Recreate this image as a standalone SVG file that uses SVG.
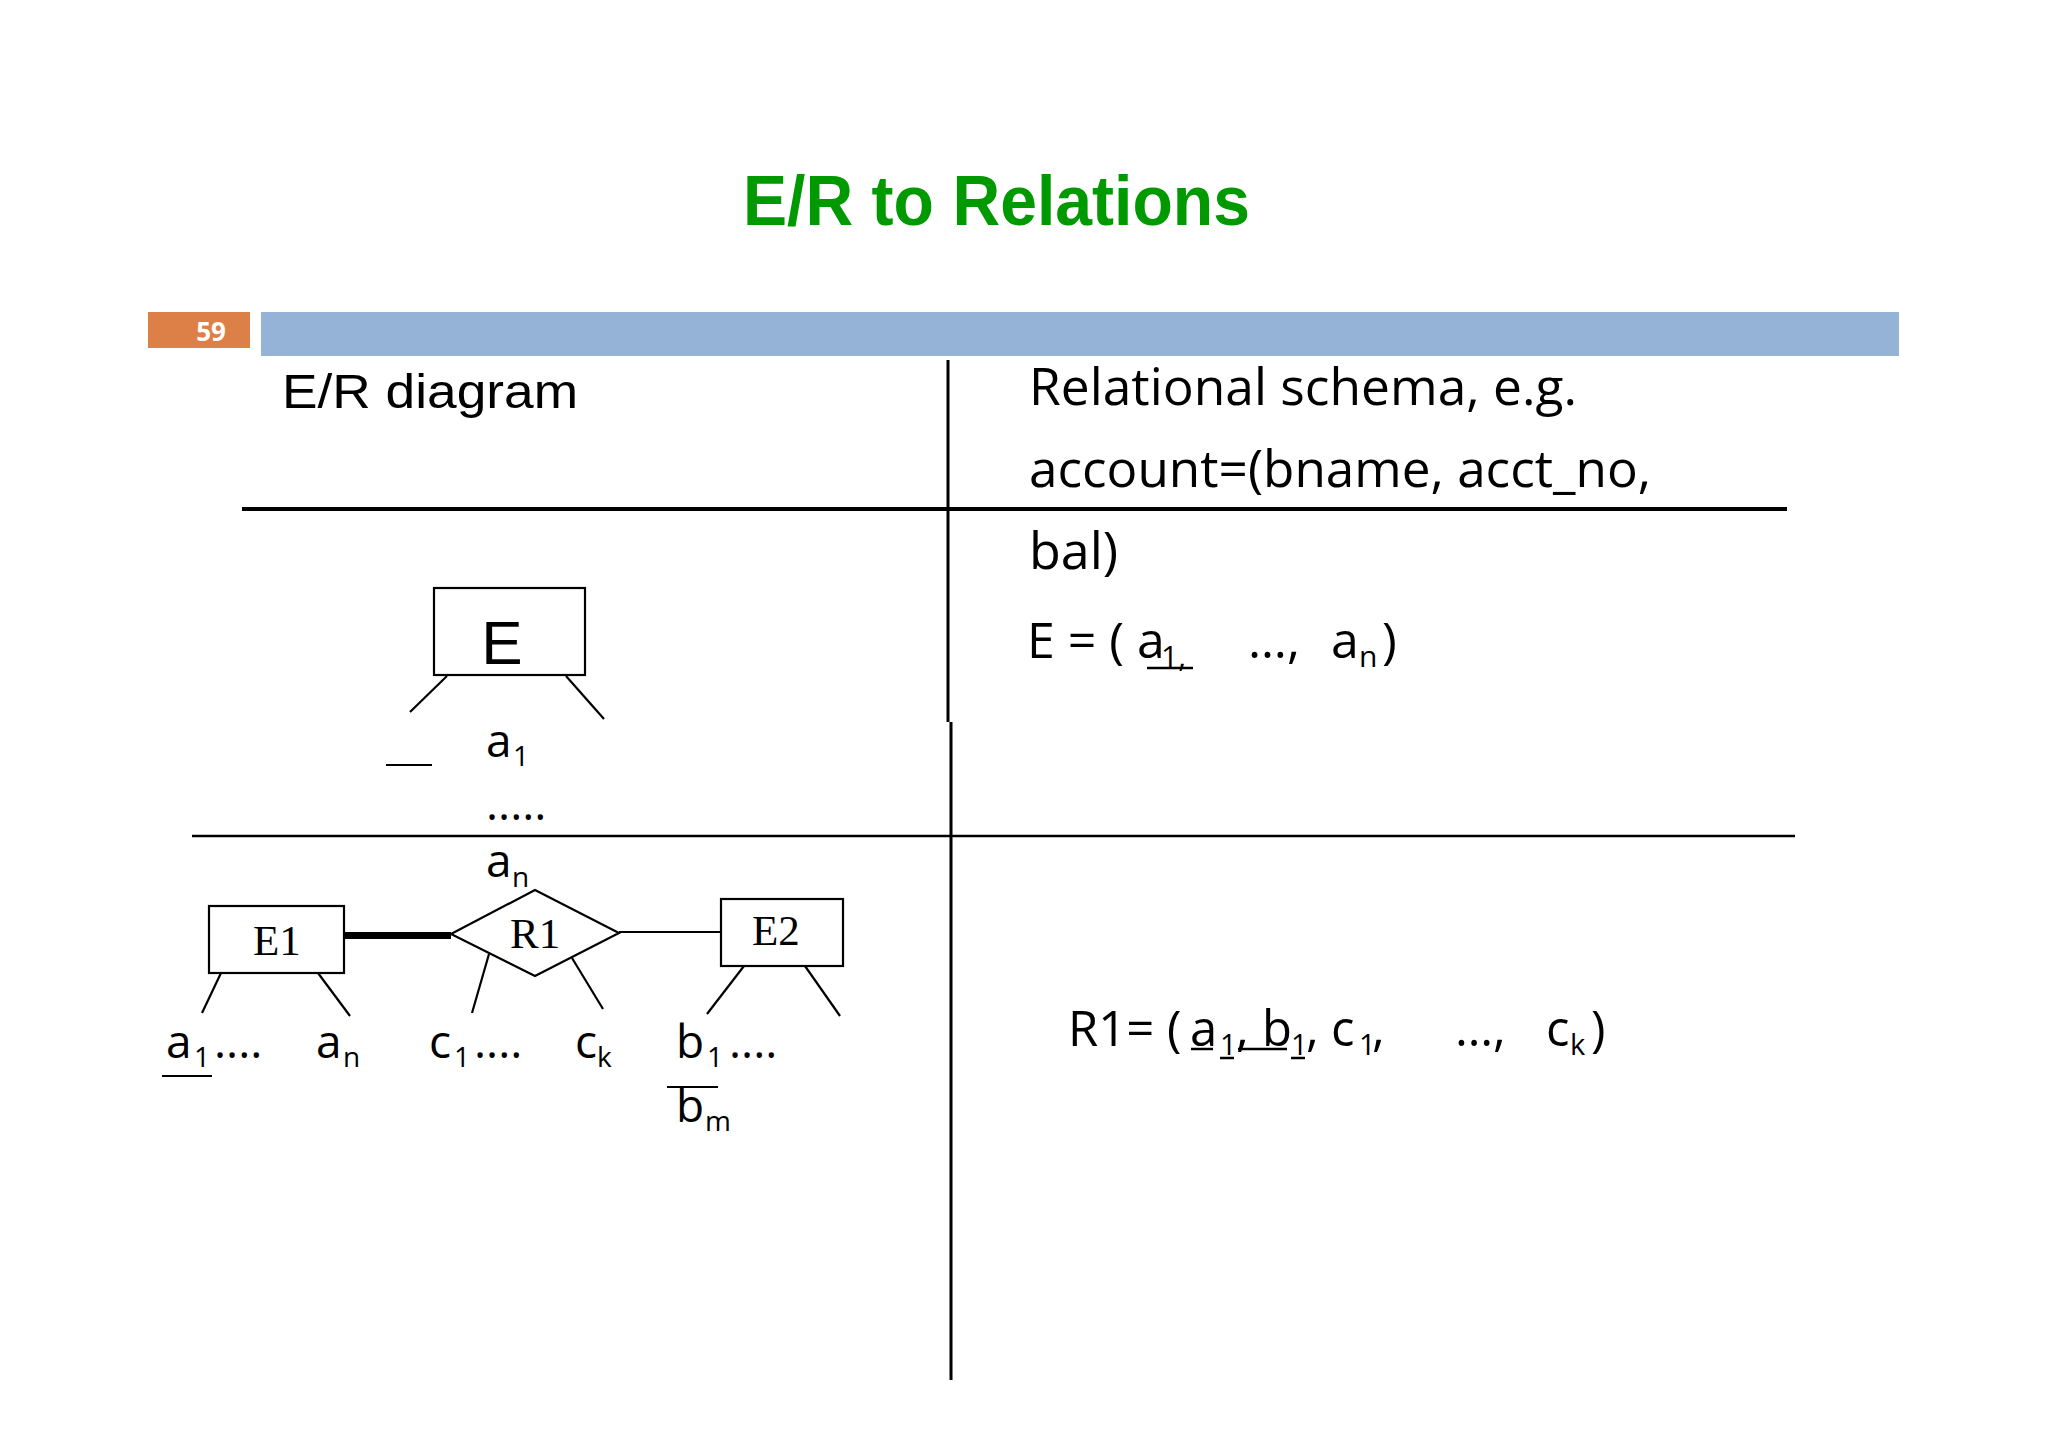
<svg xmlns="http://www.w3.org/2000/svg" width="2048" height="1448" viewBox="0 0 2048 1448">
<style>
.ln{stroke:#000;fill:none;stroke-width:2.2}
.box{stroke:#000;fill:#fff;stroke-width:2.2}
.body{font-family:"Open Sans","Noto Sans",sans-serif;fill:#000}
.serif{font-family:"Liberation Serif","Times New Roman",serif;fill:#000;font-size:43px}
.geo{font-family:"Liberation Sans",Arial,sans-serif;fill:#000}
</style>
<rect width="2048" height="1448" fill="#fff"/>
<g id="header">
<text x="743" y="225" font-family="Liberation Sans, Arial, sans-serif" font-weight="bold" font-size="70" fill="#009A00" textLength="507" lengthAdjust="spacingAndGlyphs">E/R to Relations</text>
<rect x="148" y="312" width="102" height="36" fill="#DD8047"/>
<text x="211" y="341" text-anchor="middle" font-family="Open Sans, sans-serif" font-weight="bold" font-size="26" fill="#fff">59</text>
<rect x="261" y="312" width="1638" height="44" fill="#95B3D7"/>
</g>
<g id="table">
<line x1="948" y1="360" x2="948" y2="722" stroke="#000" stroke-width="3"/>
<line x1="951" y1="722" x2="951" y2="1380" stroke="#000" stroke-width="3"/>
<line x1="242" y1="509" x2="1787" y2="509" stroke="#000" stroke-width="4"/>
<line x1="192" y1="836" x2="1795" y2="836" stroke="#000" stroke-width="2.5"/>
<text class="geo" x="282" y="408" font-size="48" textLength="296" lengthAdjust="spacingAndGlyphs">E/R diagram</text>
<text class="body" x="1029" y="405" font-size="52" textLength="548" lengthAdjust="spacingAndGlyphs">Relational schema, e.g.</text>
<text class="body" x="1029" y="487" font-size="52" textLength="622" lengthAdjust="spacingAndGlyphs">account=(bname, acct_no,</text>
<text class="body" x="1029" y="569" font-size="52">bal)</text>
</g>
<g id="schema-E">
<text class="body" y="658" font-size="50"><tspan x="1027">E = ( a</tspan><tspan x="1161" y="667" font-size="30">1,</tspan><tspan x="1248" y="658">…,</tspan><tspan x="1331">a</tspan><tspan x="1359" y="667" font-size="30">n</tspan><tspan x="1382" y="658">)</tspan></text>
<line x1="1147" y1="668" x2="1193" y2="668" stroke="#000" stroke-width="2.5"/>
</g>
<g id="schema-R1">
<text class="body" y="1046" font-size="49"><tspan x="1068">R1= (</tspan><tspan x="1190">a</tspan><tspan x="1220" y="1055" font-size="29">1</tspan><tspan x="1236" y="1046">,</tspan><tspan x="1262">b</tspan><tspan x="1291" y="1055" font-size="29">1</tspan><tspan x="1306" y="1046">,</tspan><tspan x="1331">c</tspan><tspan x="1359" y="1055" font-size="29">1</tspan><tspan x="1372" y="1046">,</tspan><tspan x="1455">…,</tspan><tspan x="1546">c</tspan><tspan x="1570" y="1055" font-size="29">k</tspan><tspan x="1591" y="1046">)</tspan></text>
<line x1="1191" y1="1049" x2="1213" y2="1049" stroke="#000" stroke-width="2.5"/>
<line x1="1220" y1="1058" x2="1234" y2="1058" stroke="#000" stroke-width="2.5"/>
<line x1="1238" y1="1049" x2="1287" y2="1049" stroke="#000" stroke-width="2.5"/>
<line x1="1291" y1="1058" x2="1305" y2="1058" stroke="#000" stroke-width="2.5"/>
</g>
<g id="node-E">
<rect class="box" x="434" y="588" width="151" height="87"/>
<text class="geo" x="502" y="664" font-size="62" text-anchor="middle">E</text>
</g>
<g id="node-E1">
<rect class="box" x="209" y="906" width="135" height="67"/>
<text class="serif" x="253" y="955">E1</text>
</g>
<g id="node-R1">
<polygon class="box" points="451,934 535,890 619,933 535,976"/>
<text class="serif" x="510" y="948">R1</text>
</g>
<g id="node-E2">
<rect class="box" x="721" y="899" width="122" height="67"/>
<text class="serif" x="752" y="945">E2</text>
</g>
<g id="connectors">
<line x1="344" y1="935.5" x2="451" y2="935.5" stroke="#000" stroke-width="7"/>
<line class="ln" x1="619" y1="932" x2="721" y2="932"/>
<line class="ln" x1="447" y1="676" x2="410" y2="712"/>
<line class="ln" x1="566" y1="676" x2="604" y2="719"/>
<line class="ln" x1="221" y1="973" x2="202" y2="1013"/>
<line class="ln" x1="318" y1="973" x2="350" y2="1016"/>
<line class="ln" x1="489" y1="954" x2="472" y2="1013"/>
<line class="ln" x1="572" y1="958" x2="603" y2="1009"/>
<line class="ln" x1="744" y1="966" x2="707" y2="1014"/>
<line class="ln" x1="805" y1="966" x2="840" y2="1016"/>
</g>
<g id="attributes">
<line class="ln" x1="386" y1="765" x2="432" y2="765"/>
<text class="body" font-size="46"><tspan x="486" y="757">a</tspan><tspan x="513" y="766" font-size="28">1</tspan></text>
<text class="body" x="486" y="820" font-size="46">.....</text>
<text class="body" font-size="46"><tspan x="486" y="877">a</tspan><tspan x="512" y="887" font-size="28">n</tspan></text>
<text class="body" font-size="46"><tspan x="166" y="1058">a</tspan><tspan x="194" y="1067" font-size="28">1</tspan><tspan x="214" y="1058">....</tspan></text>
<line class="ln" x1="162" y1="1076" x2="212" y2="1076"/>
<text class="body" font-size="46"><tspan x="316" y="1058">a</tspan><tspan x="343" y="1067" font-size="28">n</tspan></text>
<text class="body" font-size="46"><tspan x="429" y="1058">c</tspan><tspan x="454" y="1067" font-size="28">1</tspan><tspan x="474" y="1058">....</tspan></text>
<text class="body" font-size="46"><tspan x="575" y="1058">c</tspan><tspan x="597" y="1067" font-size="28">k</tspan></text>
<text class="body" font-size="46"><tspan x="676" y="1058">b</tspan><tspan x="707" y="1067" font-size="28">1</tspan><tspan x="729" y="1058">....</tspan></text>
<line class="ln" x1="667" y1="1087" x2="718" y2="1087"/>
<text class="body" font-size="46"><tspan x="676" y="1122">b</tspan><tspan x="705" y="1131" font-size="28">m</tspan></text>
</g>
</svg>
